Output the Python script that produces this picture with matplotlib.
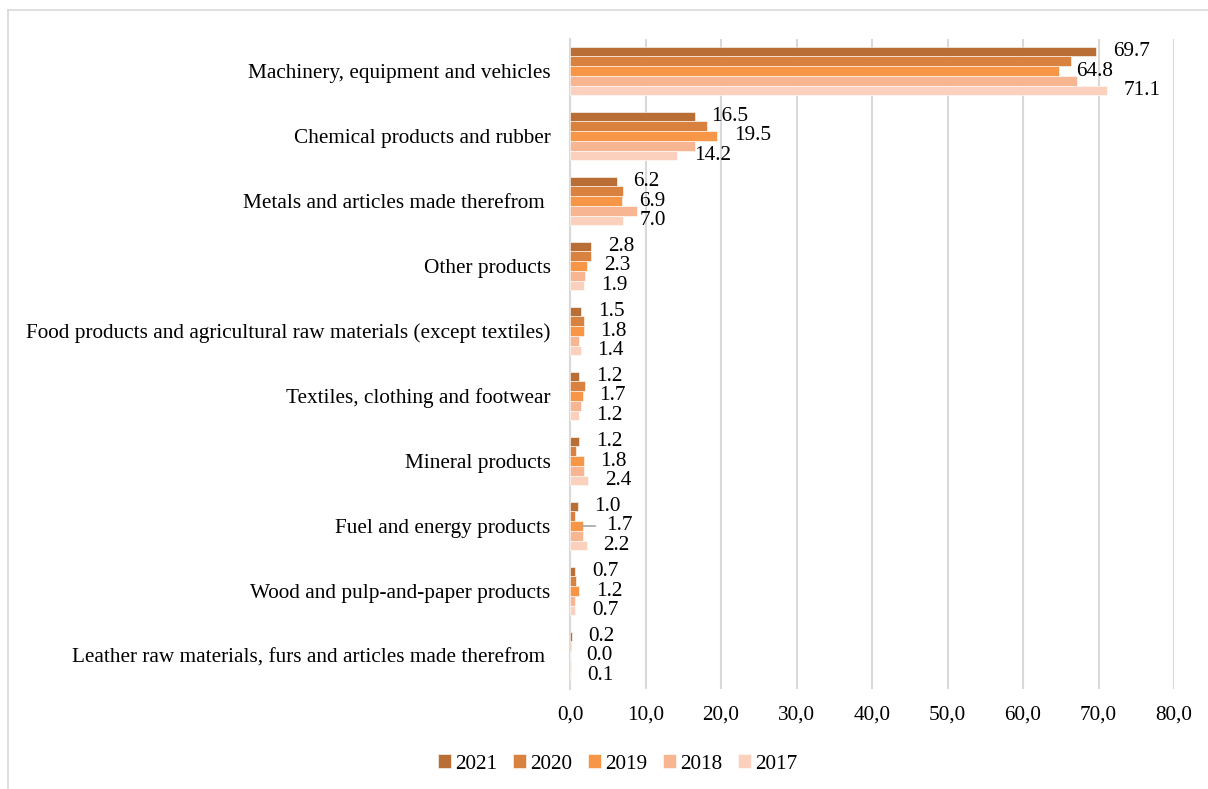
import matplotlib.pyplot as plt
from matplotlib.lines import Line2D
from matplotlib.ticker import FuncFormatter
import numpy as np

categories = [
    "Machinery, equipment and vehicles",
    "Chemical products and rubber",
    "Metals and articles made therefrom ",
    "Other products",
    "Food products and agricultural raw materials (except textiles)",
    "Textiles, clothing and footwear",
    "Mineral products",
    "Fuel and energy products",
    "Wood and pulp-and-paper products",
    "Leather raw materials, furs and articles made therefrom ",
]
years = ["2021", "2020", "2019", "2018", "2017"]
v2021 = [69.7, 16.5, 6.2, 2.8, 1.5, 1.2, 1.2, 1.0, 0.7, 0.2]
v2020 = [66.4, 18.1, 7.0, 2.8, 1.9, 2.0, 0.8, 0.7, 0.8, 0.1]
v2019 = [64.8, 19.5, 6.9, 2.3, 1.8, 1.7, 1.8, 1.7, 1.2, 0.0]
v2018 = [67.2, 16.6, 8.9, 2.0, 1.2, 1.4, 1.8, 1.7, 0.7, 0.1]
v2017 = [71.1, 14.2, 7.0, 1.9, 1.4, 1.2, 2.4, 2.2, 0.7, 0.1]
series = [v2021, v2020, v2019, v2018, v2017]
labelled = [0, 2, 4]  # only 2021, 2019, 2017 carry data labels

colors = ["#B96E36", "#D98240", "#F69646", "#F8B592", "#FBD0BC"]

plt.rcParams['font.family'] = ['Liberation Serif', 'DejaVu Serif']
fs = 15.3

fig = plt.figure(figsize=(12.08, 7.89), dpi=100)
ax = fig.add_axes([570 / 1208, 1 - 688.5 / 789, 604 / 1208, 650 / 789])

n = len(categories)
y = np.arange(n)
bh = 0.15
for i, (vals, yr, c) in enumerate(zip(series, years, colors)):
    pos = y + (i - 2) * bh
    ax.barh(pos, vals, height=bh, color=c, edgecolor='white', linewidth=0.4,
            label=yr, zorder=3)
    if i in labelled:
        for j, (p, v) in enumerate(zip(pos, vals)):
            if j == 7 and i == 2:
                # fuel 2019 label was dragged out, Excel adds a leader line
                ax.annotate(f"{v:.1f}", xy=(v, p), xytext=(17, 0),
                            textcoords='offset points', va='center', ha='left',
                            fontsize=fs,
                            arrowprops=dict(arrowstyle='-', color='#A6A6A6',
                                            lw=1.2, shrinkA=6, shrinkB=0))
            else:
                ax.annotate(f"{v:.1f}", xy=(v, p), xytext=(12, 0),
                            textcoords='offset points', va='center', ha='left',
                            fontsize=fs)

ax.set_ylim(n - 0.5, -0.5)
ax.set_xlim(0, 80)
ax.set_yticks(y)
ax.set_yticklabels(categories, fontsize=fs)
ax.set_xticks(np.arange(0, 81, 10))
ax.xaxis.set_major_formatter(FuncFormatter(lambda v, p: f"{v:.1f}".replace('.', ',')))
ax.tick_params(axis='x', labelsize=fs, length=0, pad=12)
ax.tick_params(axis='y', length=0, pad=14)
ax.grid(axis='x', color='#D9D9D9', linewidth=1.5, zorder=0)
for s in ['top', 'right', 'bottom']:
    ax.spines[s].set_visible(False)
ax.spines['left'].set_color('#D9D9D9')
ax.spines['left'].set_linewidth(1.5)

ax.legend(loc='center', bbox_to_anchor=(618 / 1208, 1 - 764 / 789),
          bbox_transform=fig.transFigure, ncol=5, frameon=False, fontsize=fs,
          handlelength=0.6, handleheight=0.6, handletextpad=0.2,
          columnspacing=0.75)

# outer chart border
fig.add_artist(Line2D([8 / 1208, 8 / 1208], [0, 1 - 10 / 789],
                      transform=fig.transFigure, color='#D9D9D9', lw=1.2))
fig.add_artist(Line2D([8 / 1208, 1], [1 - 10 / 789, 1 - 10 / 789],
                      transform=fig.transFigure, color='#D9D9D9', lw=1.2))

fig.savefig('out.png', dpi=100)
